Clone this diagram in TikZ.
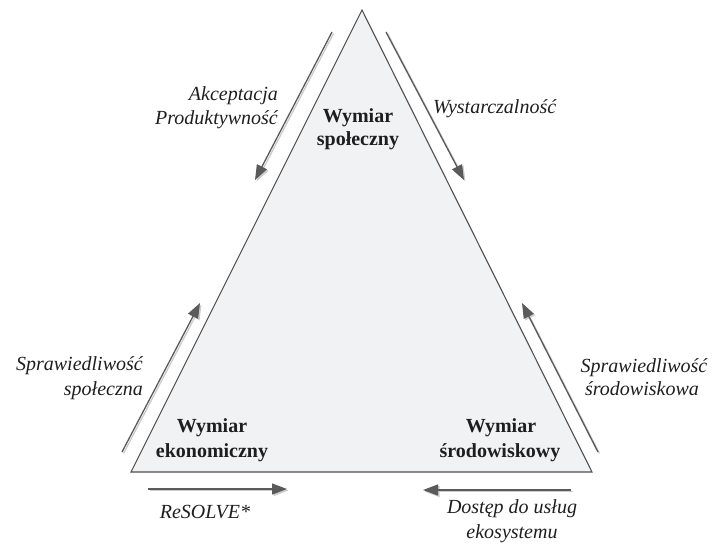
\documentclass[tikz,border=0pt]{standalone}
\usepackage{fontspec}
\setmainfont{Liberation Serif}
\usetikzlibrary{arrows.meta}
\definecolor{arrgray}{HTML}{5A5A5A}
\definecolor{trifill}{HTML}{F1F2F4}
\definecolor{triline}{HTML}{505050}
\definecolor{txt}{HTML}{1E1E1E}
\begin{document}
\begin{tikzpicture}[x=1pt,y=-1pt,
 flow/.style={draw=arrgray, line width=1.3pt, -{Triangle[length=15pt,width=11pt]}},
 flowshadow/.style={draw=black!20, line width=1.3pt, -{Triangle[length=15pt,width=11pt]}},
 lab/.style={font=\fontsize{20}{24}\selectfont\itshape, inner sep=0pt, text=txt},
 dim/.style={font=\fontsize{20}{24}\selectfont\bfseries, inner sep=0pt, text=txt}]
\useasboundingbox (0,0) rectangle (713,547);
\coordinate (A) at (362,10);
\coordinate (B) at (131,472);
\coordinate (C) at (592,472);
\filldraw[fill=trifill, draw=triline, line width=1.1pt] (A) -- (B) -- (C) -- cycle;
% arrows
\coordinate (a1s) at (332,32);  \coordinate (a1e) at (255,180);
\coordinate (a2s) at (386,32);  \coordinate (a2e) at (464,180);
\coordinate (a3s) at (122,452); \coordinate (a3e) at (200,303);
\coordinate (a4s) at (598,452); \coordinate (a4e) at (522,303);
\coordinate (a5s) at (148,489); \coordinate (a5e) at (287,489);
\coordinate (a6s) at (571,490); \coordinate (a6e) at (423,490);
\foreach \i in {1,...,6}{
  \draw[flowshadow, transform canvas={shift={(1.5pt,-1.5pt)}}] (a\i s) -- (a\i e);
  \draw[flow] (a\i s) -- (a\i e);
}
% labels
\node[lab, anchor=base east] (l1a) at (278,100) {Akceptacja};
\node[lab, anchor=base east] (l1b) at (278,124) {Produktywność};
\node[lab, anchor=base west] (l2) at (433,113) {Wystarczalność};
\node[lab, anchor=base east] (l3a) at (143,370) {Sprawiedliwość};
\node[lab, anchor=base east] (l3b) at (143,395) {społeczna};
\node[lab, anchor=base] (l4a) at (644,372) {Sprawiedliwość};
\node[lab, anchor=base] (l4b) at (642,395) {środowiskowa};
\node[lab, anchor=base] (l5) at (205,518) {ReSOLVE*};
\node[lab, anchor=base] (l6a) at (512,513) {Dostęp do usług};
\node[lab, anchor=base] (l6b) at (512,538) {ekosystemu};
% dimensions
\node[dim, anchor=base] (d1a) at (358,122) {Wymiar};
\node[dim, anchor=base] (d1b) at (358,145) {społeczny};
\node[dim, anchor=base] (d2a) at (212,432) {Wymiar};
\node[dim, anchor=base] (d2b) at (212,457) {ekonomiczny};
\node[dim, anchor=base] (d3a) at (501,432) {Wymiar};
\node[dim, anchor=base] (d3b) at (500,457) {środowiskowy};
\end{tikzpicture}
\end{document}
